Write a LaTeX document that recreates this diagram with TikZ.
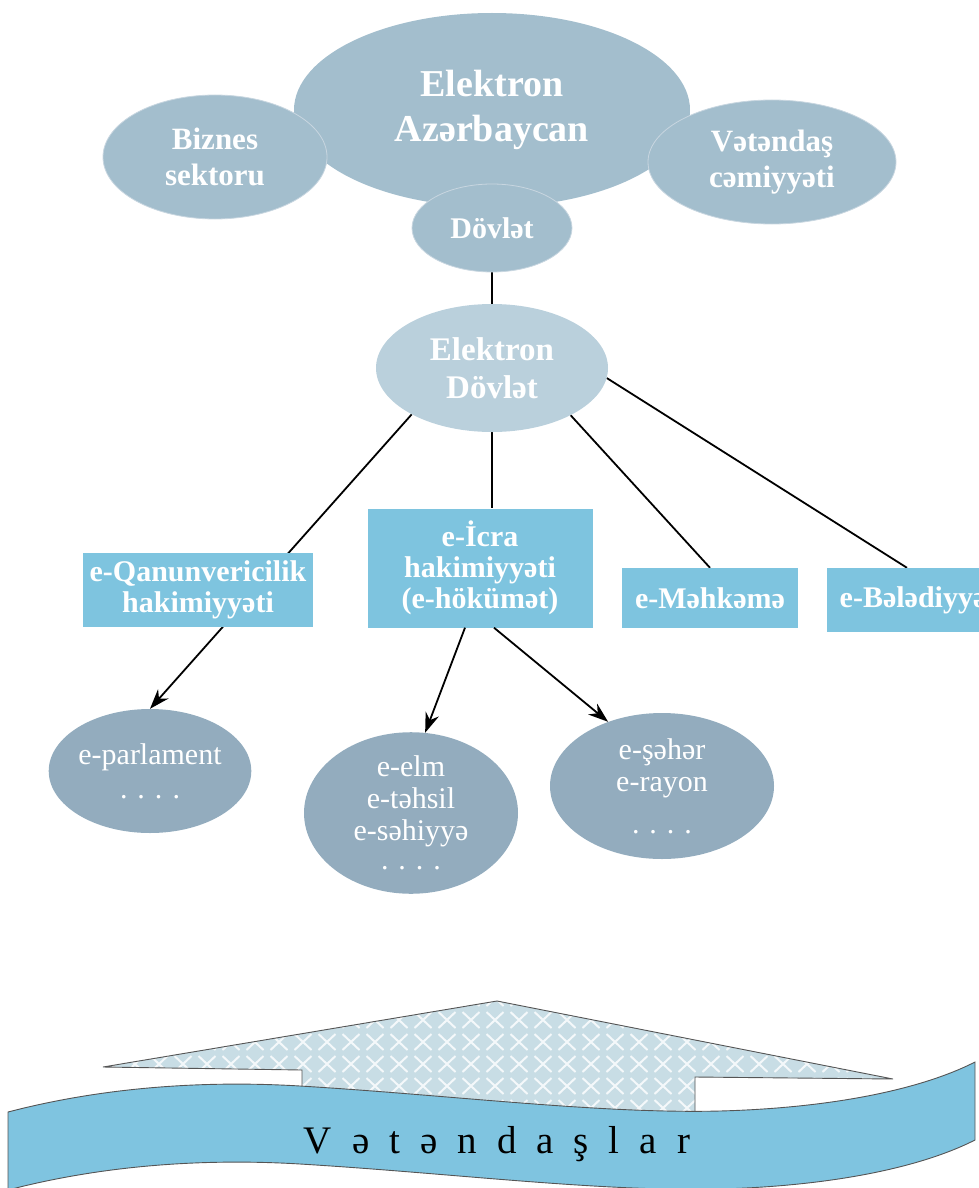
\documentclass[tikz,border=0pt]{standalone}
\usepackage{fontspec}
\setmainfont{Liberation Serif}
\usetikzlibrary{arrows.meta,shapes.geometric}
\pgfdeclarelayer{bg}
\pgfsetlayers{bg,main}
\definecolor{topell}{RGB}{163,190,205}
\definecolor{edell}{RGB}{186,208,220}
\definecolor{lowell}{RGB}{147,172,190}
\definecolor{boxc}{RGB}{126,196,223}
\definecolor{bandc}{RGB}{127,196,224}
\definecolor{hatchc}{RGB}{200,221,229}
\definecolor{edgec}{RGB}{85,85,85}
\definecolor{rimc}{RGB}{200,214,224}
\tikzset{
  ell/.style={ellipse, inner sep=0pt, text=white, align=center},
  topfill/.style={fill=topell, draw=rimc, line width=0.8pt},
  lowfill/.style={fill=lowell},
  ebox/.style={rectangle, fill=boxc, text=white, align=center, inner sep=0pt,
    font=\bfseries\fontsize{30}{31}\selectfont},
  regtxt/.style={font=\fontsize{30}{32}\selectfont},
  conn/.style={line width=1.8pt, black},
  arr/.style={conn, -{Stealth[length=20pt,width=14pt]}},
  outline/.style={draw=edgec, line width=0.9pt}
}
\begin{document}
\begin{tikzpicture}[x=1pt,y=-1pt]
\useasboundingbox (0,0) rectangle (978,1188);
% top cluster
\node[ell, topfill, draw=none, minimum width=396pt, minimum height=194pt,
  font=\bfseries\fontsize{38}{45}\selectfont] (ea) at (492,110) {Elektron\\Azərbaycan};
\node[ell, topfill, minimum width=224pt, minimum height=124pt,
  font=\bfseries\fontsize{31}{36}\selectfont] (biz) at (215,157) {Biznes\\sektoru};
\node[ell, topfill, minimum width=248pt, minimum height=124pt,
  font=\bfseries\fontsize{31}{36}\selectfont] (vc) at (772,162) {Vətəndaş\\cəmiyyəti};
\node[ell, topfill, minimum width=160pt, minimum height=88pt,
  font=\bfseries\fontsize{30}{34}\selectfont] (dov) at (492,228) {Dövlət};
\node[ell, fill=edell, minimum width=232pt, minimum height=128pt,
  font=\bfseries\fontsize{33}{38}\selectfont] (ed) at (492,368) {Elektron\\Dövlət};
% boxes
\node[ebox, minimum width=230pt, minimum height=74pt] (qan) at (198,590) {e-Qanunvericilik\\hakimiyyəti};
\node[ebox, minimum width=225pt, minimum height=119pt] (icra) at (480,568) {e-İcra\\hakimiyyəti\\(e-hökümət)};
\node[ebox, minimum width=176pt, minimum height=60pt] (mehk) at (710,598) {e-Məhkəmə};
\node[ebox, minimum width=173pt, minimum height=64pt] (bel) at (913,600) {e-Bələdiyyə};
% lower ellipses
\node[ell, lowfill, minimum width=184pt, minimum height=124pt, regtxt] (eparl) at (150,771)
  {e-parlament\\[2pt]. . . .};
\node[ell, lowfill, minimum width=214pt, minimum height=146pt, regtxt] (eelm) at (411,813)
  {e-elm\\e-təhsil\\e-səhiyyə\\[-3pt]. . . .};
\node[ell, lowfill, minimum width=224pt, minimum height=146pt, regtxt] (eseh) at (662,786)
  {e-şəhər\\e-rayon\\[10pt]. . . .};
% connectors
\begin{pgfonlayer}{bg}
\draw[conn] (dov) -- (ed);
\draw[conn] (ed.south) -- (ed.south |- icra.north);
\draw[conn] (ed.-31) -- (mehk.north);
\draw[conn] (ed.-5) -- ([xshift=-6pt]bel.north);
\draw[arr] (ed.210) -- (eparl.north);
\end{pgfonlayer}
\draw[arr] ([xshift=-15pt]icra.south) -- (eelm.80);
\draw[arr] ([xshift=14pt]icra.south) -- (eseh.130);
% hatched arrow
\path[fill=hatchc] (103,1067) -- (497,1001) -- (893,1079) -- (695,1077) -- (695,1118) -- (302,1098) -- (302,1070) -- cycle;
\begin{scope}
\clip (103,1067) -- (497,1001) -- (893,1079) -- (695,1077) -- (695,1118) -- (302,1098) -- (302,1070) -- cycle;
\foreach \r in {0,...,6}{
  \foreach \c in {0,...,34}{
    \draw[white!80!hatchc, line width=2pt]
      ({111+24*\c-8.5},{998+22*\r-8}) -- ++(17,16)
      ({111+24*\c+8.5},{998+22*\r-8}) -- ++(-17,16);
  }
}
\end{scope}
\draw[outline] (302,1098) -- (302,1070) -- (103,1067) -- (497,1001) -- (893,1079) -- (695,1077) -- (695,1118);
% band
\draw[outline, fill=bandc] (8,1112) .. controls (100,1088) and (200,1080) .. (300,1086)
  .. controls (450,1095) and (600,1114) .. (720,1111)
  .. controls (830,1108) and (920,1090) .. (975,1062)
  -- (975,1140) .. controls (920,1168) and (830,1186) .. (720,1189)
  .. controls (600,1192) and (450,1173) .. (300,1164)
  .. controls (200,1158) and (100,1166) .. (8,1190) -- cycle;
\node[anchor=base, font=\fontsize{39}{39}\selectfont, inner sep=0pt] (vt) at (497,1153)
  {V\hspace{20pt}ə\hspace{20pt}t\hspace{20pt}ə\hspace{20pt}n\hspace{20pt}d\hspace{20pt}a\hspace{20pt}ş\hspace{20pt}l\hspace{20pt}a\hspace{20pt}r};
\end{tikzpicture}
\end{document}
